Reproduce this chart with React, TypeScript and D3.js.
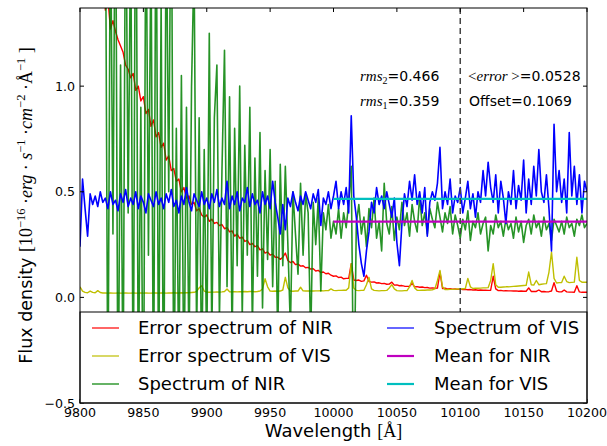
import React from "react";
import * as d3 from "d3";

// Axis extents and ticks
const X_MIN = 9800;
const X_MAX = 10200;
const Y_MIN = -0.5;
const Y_MAX = 1.37;
const xTicks = [9800, 9850, 9900, 9950, 10000, 10050, 10100, 10150, 10200];
const yTicks = [-0.5, 0.0, 0.5, 1.0];
const yTickLabels = ["\u22120.5", "0.0", "0.5", "1.0"];

// VIS spectrum (flux), sampled every 2 Å from 9800 Å
const visStart = 9800;
const visStep = 2;
const visFlux = [
  0.24, 0.56, 0.42, 0.29, 0.49, 0.44, 0.48, 0.43, 0.50, 0.45,
  0.47, 0.42, 0.50, 0.44, 0.46, 0.41, 0.49, 0.45, 0.51, 0.43,
  0.47, 0.44, 0.50, 0.42, 0.48, 0.45, 0.40, 0.49, 0.46, 0.43,
  0.50, 0.44, 0.47, 0.42, 0.49, 0.45, 0.51, 0.43, 0.46, 0.40,
  0.48, 0.44, 0.52, 0.45, 0.41, 0.49, 0.46, 0.43, 0.50, 0.44,
  0.47, 0.42, 0.49, 0.45, 0.51, 0.43, 0.47, 0.44, 0.55, 0.42,
  0.48, 0.44, 0.50, 0.41, 0.47, 0.45, 0.52, 0.43, 0.49, 0.44,
  0.46, 0.40, 0.50, 0.44, 0.48, 0.42, 0.55, 0.45, 0.38, 0.30,
  0.44, 0.32, 0.47, 0.43, 0.50, 0.45, 0.41, 0.48, 0.44, 0.50,
  0.46, 0.42, 0.49, 0.45, 0.51, 0.34, 0.47, 0.44, 0.50, 0.42,
  0.48, 0.55, 0.42, 0.50, 0.44, 0.52, 0.40, 0.86, 0.48, 0.38,
  0.25, 0.16, 0.10, 0.22, 0.31, 0.45, 0.40, 0.52, 0.44, 0.48,
  0.42, 0.50, 0.44, 0.38, 0.47, 0.26, 0.15, 0.35, 0.49, 0.43,
  0.55, 0.46, 0.58, 0.44, 0.50, 0.40, 0.52, 0.29, 0.45, 0.50,
  0.46, 0.54, 0.71, 0.42, 0.50, 0.44, 0.56, 0.40, 0.48, 0.45,
  0.52, 0.40, 0.47, 0.55, 0.42, 0.49, 0.38, 0.50, 0.45, 0.60,
  0.48, 0.64, 0.52, 0.45, 0.58, 0.40, 0.55, 0.47, 0.35, 0.50,
  0.44, 0.60, 0.42, 0.53, 0.46, 0.65, 0.40, 0.56, 0.44, 0.62,
  0.48, 0.70, 0.50, 0.45, 0.58, 0.42, 0.22, 0.82, 0.50, 0.60,
  0.45, 0.56, 0.40, 0.78, 0.48, 0.62, 0.44, 0.58, 0.40, 0.55,
  0.50,
];

// VIS error spectrum, same sampling as the VIS flux
const visError = [
  0.050, 0.030, 0.024, 0.022, 0.030, 0.024, 0.022, 0.032, 0.023, 0.021,
  0.021, 0.020, 0.021, 0.020, 0.020, 0.021, 0.020, 0.020, 0.021, 0.020,
  0.020, 0.021, 0.020, 0.020, 0.021, 0.020, 0.021, 0.020, 0.020, 0.021,
  0.021, 0.020, 0.021, 0.021, 0.020, 0.021, 0.021, 0.022, 0.021, 0.021,
  0.022, 0.021, 0.022, 0.022, 0.023, 0.024, 0.028, 0.045, 0.055, 0.030,
  0.025, 0.024, 0.025, 0.025, 0.026, 0.025, 0.026, 0.028, 0.040, 0.027,
  0.026, 0.027, 0.026, 0.027, 0.027, 0.028, 0.027, 0.028, 0.028, 0.027,
  0.028, 0.030, 0.040, 0.088, 0.050, 0.030, 0.029, 0.030, 0.029, 0.030,
  0.035, 0.095, 0.045, 0.030, 0.029, 0.030, 0.030, 0.048, 0.031, 0.030,
  0.030, 0.031, 0.030, 0.031, 0.031, 0.032, 0.031, 0.032, 0.032, 0.040,
  0.033, 0.032, 0.033, 0.033, 0.034, 0.034, 0.045, 0.160, 0.045, 0.033,
  0.032, 0.033, 0.034, 0.060, 0.095, 0.040, 0.033, 0.032, 0.031, 0.032,
  0.032, 0.033, 0.045, 0.060, 0.040, 0.032, 0.031, 0.031, 0.032, 0.032,
  0.050, 0.080, 0.045, 0.034, 0.033, 0.034, 0.034, 0.035, 0.035, 0.036,
  0.040, 0.080, 0.128, 0.050, 0.037, 0.037, 0.038, 0.038, 0.039, 0.040,
  0.040, 0.041, 0.042, 0.090, 0.050, 0.042, 0.043, 0.043, 0.044, 0.045,
  0.045, 0.046, 0.080, 0.160, 0.060, 0.048, 0.048, 0.049, 0.050, 0.050,
  0.051, 0.052, 0.053, 0.054, 0.055, 0.056, 0.057, 0.120, 0.060, 0.058,
  0.080, 0.060, 0.062, 0.064, 0.065, 0.120, 0.215, 0.090, 0.068, 0.070,
  0.070, 0.100, 0.075, 0.070, 0.071, 0.072, 0.190, 0.080, 0.072, 0.072,
  0.072,
];

// NIR spectrum (flux), sampled every 2 Å from 9820 Å
const nirStart = 9820;
const nirStep = 2;
const nirFlux = [
  2.0, -0.6, 1.9, 0.3, 2.2, -0.7, 1.1, -0.5, 2.1, 0.4,
  1.8, -0.6, 2.4, -0.5, 0.9, -0.8, 2.0, 0.2, 1.7, -0.6,
  2.1, -0.5, 1.4, -0.7, 1.9, 0.5, 2.2, -0.6, 0.8, -0.4,
  1.05, -0.5, 0.9, -0.3, 1.0, 1.6, -0.2, 0.85, -0.4, 0.7,
  -0.3, 1.25, -0.2, 0.85, 1.10, -0.1, 0.60, 1.17, 0.05, 0.95,
  -0.2, 0.80, 0.15, 1.00, -0.1, 0.72, 0.20, 0.90, -0.15, 0.66,
  0.10, 0.78, -0.05, 0.60, 0.18, 0.70, 0.05, 0.55, -0.2, 0.63,
  0.15, 0.62, 0.25, -0.15, 0.50, 0.30, 0.11, 0.54, 0.20, 0.49,
  0.40, -0.2, 0.45, 0.25, 0.47, 0.03, 0.40, 0.32, 0.44, 0.28,
  0.36, 0.30, 0.42, 0.28, 0.40, 0.33, 0.45, 0.62, -0.6, 0.35,
  0.44, 0.30, 0.38, 0.24, 0.42, 0.33, 0.47, 0.28, 0.36, 0.22,
  0.54, 0.35, 0.30, 0.43, 0.27, 0.38, 0.32, 0.45, 0.34, 0.40,
  0.29, 0.44, 0.36, 0.31, 0.48, 0.34, 0.40, 0.30, 0.42, 0.37,
  0.33, 0.45, 0.38, 0.31, 0.40, 0.35, 0.43, 0.30, 0.39, 0.34,
  0.28, 0.37, 0.32, 0.41, 0.27, 0.36, 0.33, 0.40, 0.30, 0.35,
  0.38, 0.22, 0.34, 0.30, 0.39, 0.33, 0.36, 0.29, 0.37, 0.32,
  0.35, 0.28, 0.38, 0.31, 0.36, 0.26, 0.34, 0.37, 0.30, 0.39,
  0.33, 0.36, 0.29, 0.38, 0.32, 0.35, 0.27, 0.37, 0.34, 0.31,
  0.36, 0.30, 0.38, 0.33, 0.35, 0.29, 0.37, 0.34, 0.39, 0.33,
  0.35,
];

// NIR error spectrum, sampled every 2 Å from 9818 Å
const nirErrStart = 9818;
const nirErrStep = 2;
const nirError = [
  1.60, 1.36, 1.42, 1.27, 1.31, 1.26, 1.22, 1.19, 1.16, 1.10,
  1.08, 1.04, 1.06, 0.98, 1.00, 0.93, 0.95, 0.87, 0.89, 0.81,
  0.84, 0.76, 0.78, 0.71, 0.73, 0.65, 0.67, 0.60, 0.61, 0.55,
  0.56, 0.50, 0.52, 0.47, 0.48, 0.44, 0.45, 0.41, 0.42, 0.39,
  0.38, 0.39, 0.36, 0.37, 0.35, 0.355, 0.34, 0.345, 0.325, 0.33,
  0.31, 0.315, 0.29, 0.30, 0.28, 0.285, 0.265, 0.27, 0.25, 0.255,
  0.24, 0.245, 0.225, 0.23, 0.21, 0.215, 0.20, 0.205, 0.19, 0.19,
  0.18, 0.19, 0.21, 0.175, 0.165, 0.17, 0.155, 0.158, 0.148, 0.15,
  0.14, 0.142, 0.134, 0.136, 0.125, 0.128, 0.118, 0.12, 0.112, 0.114,
  0.105, 0.10, 0.102, 0.094, 0.096, 0.088, 0.09, 0.09, 0.16, 0.082,
  0.08, 0.082, 0.076, 0.078, 0.105, 0.075, 0.072, 0.073, 0.068, 0.069,
  0.065, 0.066, 0.062, 0.063, 0.072, 0.058, 0.059, 0.055, 0.056, 0.053,
  0.052, 0.053, 0.066, 0.05, 0.051, 0.048, 0.049, 0.046, 0.047, 0.044,
  0.045, 0.043, 0.044, 0.12, 0.042, 0.043, 0.040, 0.041, 0.039, 0.040,
  0.038, 0.039, 0.037, 0.038, 0.036, 0.037, 0.035, 0.036, 0.034, 0.035,
  0.034, 0.034, 0.033, 0.034, 0.10, 0.04, 0.032, 0.033, 0.031, 0.032,
  0.031, 0.031, 0.030, 0.031, 0.029, 0.030, 0.029, 0.029, 0.045, 0.028,
  0.028, 0.028, 0.035, 0.027, 0.028, 0.026, 0.027, 0.03, 0.07, 0.03,
  0.026, 0.026, 0.035, 0.026, 0.025, 0.025, 0.024, 0.055, 0.026, 0.024,
  0.025, 0.024,
];

// Mean levels over 10000–10200 Å and the split marker
const meanRange = [10000, 10200];
const meanNIR = 0.359;
const meanVIS = 0.466;
const splitWavelength = 10100;

// Statistics printed in the panel
const statsLeft = [
  { name: "rms", sub: "2", value: "0.466" },
  { name: "rms", sub: "1", value: "0.359" },
];
const errorMean = "0.0528";
const offsetValue = "0.1069";

const COLORS = {
  nirErr: "#ff0000",
  visErr: "#bfbf00",
  nir: "#008000",
  vis: "#0000ff",
  meanNir: "#bf00bf",
  meanVis: "#00bfbf",
};

const legendItems = [
  { label: "Error spectrum of NIR", color: COLORS.nirErr, width: 1.2, col: 0, row: 0 },
  { label: "Error spectrum of VIS", color: COLORS.visErr, width: 1.2, col: 0, row: 1 },
  { label: "Spectrum of NIR", color: COLORS.nir, width: 1.2, col: 0, row: 2 },
  { label: "Spectrum of VIS", color: COLORS.vis, width: 1.2, col: 1, row: 0 },
  { label: "Mean for NIR", color: COLORS.meanNir, width: 2.2, col: 1, row: 1 },
  { label: "Mean for VIS", color: COLORS.meanVis, width: 2.2, col: 1, row: 2 },
];

const W = 607;
const H = 446;
const L = 80;
const R = 587;
const T = 8;
const B = 403;

const SANS = "'DejaVu Sans', sans-serif";
const SERIF = "'Liberation Serif', 'DejaVu Serif', serif";

function toPoints(start: number, step: number, values: number[]): [number, number][] {
  return values.map((v, i) => [start + i * step, v]);
}

export default function App() {
  const x = d3.scaleLinear().domain([X_MIN, X_MAX]).range([L, R]);
  const y = d3.scaleLinear().domain([Y_MIN, Y_MAX]).range([B, T]);
  const line = d3
    .line<[number, number]>()
    .x((d) => x(d[0]))
    .y((d) => y(d[1]));

  const nirErrPath = line(toPoints(nirErrStart, nirErrStep, nirError)) || "";
  const visErrPath = line(toPoints(visStart, visStep, visError)) || "";
  const nirPath = line(toPoints(nirStart, nirStep, nirFlux)) || "";
  const visPath = line(toPoints(visStart, visStep, visFlux)) || "";

  const legendTop = 312;
  const rowY = (r: number) => 328 + r * 28;
  const colHandle = [92, 387];
  const colText = [138, 434];

  return (
    <svg
      width={W}
      height={H}
      viewBox={`0 0 ${W} ${H}`}
      style={{ position: "absolute", left: 0, top: 0, background: "#fff" }}
    >
      <defs>
        <clipPath id="plot-area">
          <rect x={L} y={T} width={R - L} height={B - T} />
        </clipPath>
      </defs>
      <rect x={0} y={0} width={W} height={H} fill="#fff" />

      <g clipPath="url(#plot-area)" fill="none" strokeLinejoin="round">
        <path d={nirErrPath} stroke={COLORS.nirErr} strokeWidth={1.4} />
        <path d={visErrPath} stroke={COLORS.visErr} strokeWidth={1.4} />
        <path d={nirPath} stroke={COLORS.nir} strokeWidth={1.6} strokeOpacity={0.85} />
        <path d={visPath} stroke={COLORS.vis} strokeWidth={1.6} />
        <line
          x1={x(meanRange[0])}
          x2={x(meanRange[1])}
          y1={y(meanNIR)}
          y2={y(meanNIR)}
          stroke={COLORS.meanNir}
          strokeWidth={2.2}
        />
        <line
          x1={x(meanRange[0])}
          x2={x(meanRange[1])}
          y1={y(meanVIS)}
          y2={y(meanVIS)}
          stroke={COLORS.meanVis}
          strokeWidth={2.2}
        />
        <line
          x1={x(splitWavelength)}
          x2={x(splitWavelength)}
          y1={T}
          y2={B}
          stroke="#444"
          strokeWidth={1.5}
          strokeDasharray="6,4"
        />
      </g>

      {/* ticks, drawn inward on all four sides */}
      <g stroke="#000" strokeWidth={1}>
        {xTicks.map((t) => (
          <g key={`xt${t}`}>
            <line x1={x(t)} x2={x(t)} y1={B} y2={B - 4} />
            <line x1={x(t)} x2={x(t)} y1={T} y2={T + 4} />
          </g>
        ))}
        {yTicks.map((t) => (
          <g key={`yt${t}`}>
            <line x1={L} x2={L + 4} y1={y(t)} y2={y(t)} />
            <line x1={R} x2={R - 4} y1={y(t)} y2={y(t)} />
          </g>
        ))}
      </g>

      {/* statistics */}
      <g fontSize={14} fill="#000">
        {statsLeft.map((s, i) => (
          <text key={`st${i}`} x={360} y={81 + i * 25}>
            <tspan fontFamily={SERIF} fontStyle="italic" fontSize={15}>
              {s.name}
            </tspan>
            <tspan fontFamily={SERIF} fontSize={10} dy={3}>
              {s.sub}
            </tspan>
            <tspan fontFamily={SANS} dy={-3}>
              ={s.value}
            </tspan>
          </text>
        ))}
        <text x={468} y={81}>
          <tspan fontFamily={SERIF} fontSize={15}>{"<"}</tspan>
          <tspan fontFamily={SERIF} fontStyle="italic" fontSize={15}>
            error
          </tspan>
          <tspan fontFamily={SERIF} fontSize={15}>{" >"}</tspan>
          <tspan fontFamily={SANS}>={errorMean}</tspan>
        </text>
        <text x={469} y={106} fontFamily={SANS}>
          Offset={offsetValue}
        </text>
      </g>

      {/* legend */}
      <rect
        x={L}
        y={legendTop}
        width={R - L}
        height={B - legendTop}
        fill="#fff"
        stroke="#000"
        strokeWidth={1}
      />
      {legendItems.map((it) => (
        <g key={it.label}>
          <line
            x1={colHandle[it.col]}
            x2={colHandle[it.col] + 27}
            y1={rowY(it.row)}
            y2={rowY(it.row)}
            stroke={it.color}
            strokeWidth={it.width}
          />
          <text
            x={colText[it.col]}
            y={rowY(it.row)}
            dy="0.35em"
            fontFamily={SANS}
            fontSize={18}
            fill="#000"
          >
            {it.label}
          </text>
        </g>
      ))}

      {/* axes frame */}
      <rect x={L} y={T} width={R - L} height={B - T} fill="none" stroke="#000" strokeWidth={1} />

      {/* tick labels */}
      <g fontFamily={SANS} fontSize={12.6} fill="#000">
        {xTicks.map((t) => (
          <text key={`xl${t}`} x={x(t)} y={B + 4} dy="0.76em" textAnchor="middle">
            {t}
          </text>
        ))}
        {yTicks.map((t, i) => (
          <text key={`yl${t}`} x={L - 5} y={y(t)} dy="0.36em" textAnchor="end">
            {yTickLabels[i]}
          </text>
        ))}
      </g>

      {/* axis titles */}
      <text x={(L + R) / 2} y={437} textAnchor="middle" fontSize={18} fill="#000">
        <tspan fontFamily={SANS}>Wavelength </tspan>
        <tspan fontFamily={SERIF}>[Å]</tspan>
      </text>
      <text
        transform={`translate(32, ${(T + B) / 2}) rotate(-90)`}
        textAnchor="middle"
        fontSize={17.5}
        fill="#000"
      >
        <tspan fontFamily={SANS}>Flux density </tspan>
        <tspan fontFamily={SERIF} fontSize={18}>[10</tspan>
        <tspan fontFamily={SERIF} fontSize={12.5} dy={-7}>{"\u221216"}</tspan>
        <tspan fontFamily={SERIF} fontSize={18} dy={7}>{" \u00B7"}</tspan>
        <tspan fontFamily={SERIF} fontSize={18} fontStyle="italic">erg</tspan>
        <tspan fontFamily={SERIF} fontSize={18}>{" \u00B7 "}</tspan>
        <tspan fontFamily={SERIF} fontSize={18} fontStyle="italic">s</tspan>
        <tspan fontFamily={SERIF} fontSize={12.5} dy={-7}>{"\u22121"}</tspan>
        <tspan fontFamily={SERIF} fontSize={18} dy={7}>{" \u00B7"}</tspan>
        <tspan fontFamily={SERIF} fontSize={18} fontStyle="italic">cm</tspan>
        <tspan fontFamily={SERIF} fontSize={12.5} dy={-7}>{"\u22122"}</tspan>
        <tspan fontFamily={SERIF} fontSize={18} dy={7}>{" \u00B7"}</tspan>
        <tspan fontFamily={SERIF} fontSize={18}>Å</tspan>
        <tspan fontFamily={SERIF} fontSize={12.5} dy={-7}>{"\u22121"}</tspan>
        <tspan fontFamily={SERIF} fontSize={18} dy={7}>{" ]"}</tspan>
      </text>
    </svg>
  );
}
